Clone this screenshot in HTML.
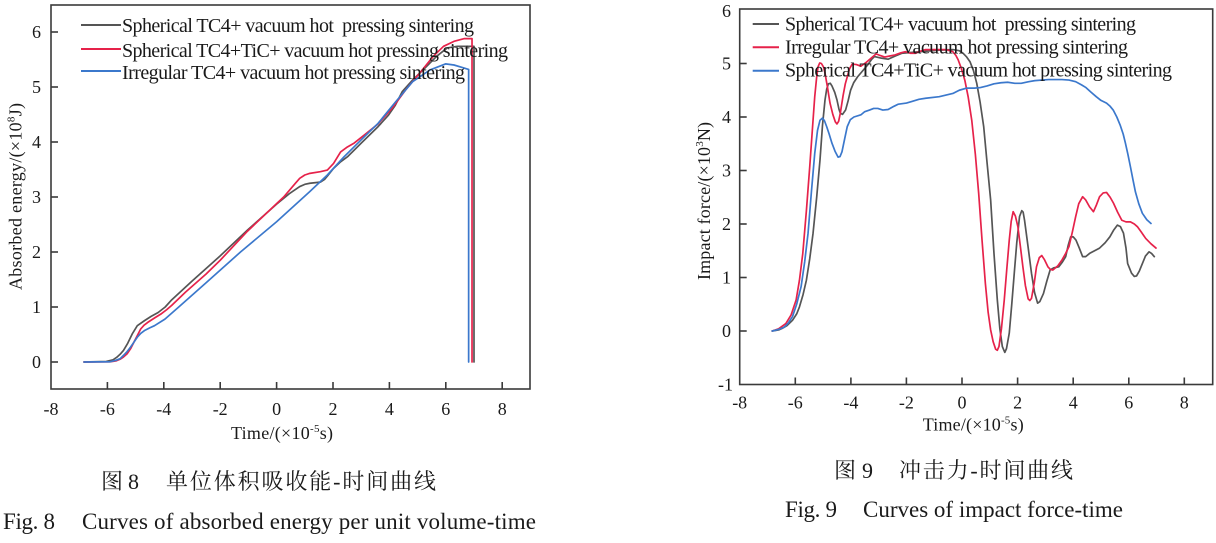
<!DOCTYPE html>
<html>
<head>
<meta charset="utf-8">
<style>
  html, body { margin: 0; padding: 0; background: #fff; }
  svg { display: block; }
  text { font-family: "Liberation Serif", "Noto Serif CJK SC", serif; fill: #1a1a1a; }
  .tk { font-size: 18px; }
  .lg { font-size: 20px; white-space: pre; }
  .ax { fill: none; stroke: #3a3a3a; stroke-width: 1.6; }
  .s { fill: none; stroke-width: 1.7; stroke-linejoin: round; stroke-linecap: round; }
  .cj { font-family: "Liberation Serif", "Noto Serif CJK SC", serif; font-size: 22px; }
  .cap { font-size: 23px; }
</style>
</head>
<body>
<svg width="1216" height="543" viewBox="0 0 1216 543" xmlns="http://www.w3.org/2000/svg">
  <rect width="1216" height="543" fill="#fff"/>

  <!-- ================= LEFT CHART ================= -->
  <rect class="ax" x="51" y="5" width="479" height="384"/>
  <g stroke="#3a3a3a" stroke-width="1.6">
    <line x1="51" y1="32" x2="58" y2="32"/>
    <line x1="51" y1="87" x2="58" y2="87"/>
    <line x1="51" y1="142" x2="58" y2="142"/>
    <line x1="51" y1="197" x2="58" y2="197"/>
    <line x1="51" y1="252" x2="58" y2="252"/>
    <line x1="51" y1="307" x2="58" y2="307"/>
    <line x1="51" y1="362" x2="58" y2="362"/>
    <line x1="107.4" y1="389" x2="107.4" y2="382"/>
    <line x1="163.8" y1="389" x2="163.8" y2="382"/>
    <line x1="220.2" y1="389" x2="220.2" y2="382"/>
    <line x1="276.6" y1="389" x2="276.6" y2="382"/>
    <line x1="333" y1="389" x2="333" y2="382"/>
    <line x1="389.4" y1="389" x2="389.4" y2="382"/>
    <line x1="445.8" y1="389" x2="445.8" y2="382"/>
    <line x1="502.2" y1="389" x2="502.2" y2="382"/>
  </g>
  <g class="tk" text-anchor="end">
    <text x="41" y="38">6</text>
    <text x="41" y="93">5</text>
    <text x="41" y="148">4</text>
    <text x="41" y="203">3</text>
    <text x="41" y="258">2</text>
    <text x="41" y="313">1</text>
    <text x="41" y="368">0</text>
  </g>
  <g class="tk" text-anchor="middle">
    <text x="51" y="415">-8</text>
    <text x="107.4" y="415">-6</text>
    <text x="163.8" y="415">-4</text>
    <text x="220.2" y="415">-2</text>
    <text x="276.6" y="415">0</text>
    <text x="333" y="415">2</text>
    <text x="389.4" y="415">4</text>
    <text x="445.8" y="415">6</text>
    <text x="502.2" y="415">8</text>
  </g>
  <text x="231" y="439" font-size="18" textLength="102">Time/(×10<tspan font-size="11" dy="-7">-5</tspan><tspan dy="7">s)</tspan></text>
  <text transform="translate(21.5,196.5) rotate(-90)" text-anchor="middle" font-size="18" textLength="187">Absorbed energy/(×10<tspan font-size="11" dy="-7">8</tspan><tspan dy="7">J)</tspan></text>

  <g transform="matrix(28.2 0 0 -55 276.6 362)">
    <polyline class="s" vector-effect="non-scaling-stroke" stroke="#555555" points="-6.83,0 -6.04,0.01 -5.8,0.04 -5.67,0.085 -5.55,0.14 -5.43,0.21 -5.28,0.34 -5.12,0.51 -4.94,0.66 -4.69,0.75 -4.45,0.83 -4.2,0.9 -3.95,1.0 -3.72,1.13 -3.0,1.47 -2.0,1.93 -1.03,2.4 0,2.87 0.45,3.06 0.82,3.19 1.0,3.23 1.18,3.25 1.55,3.27 1.7,3.32 1.8,3.38 2.02,3.52 2.27,3.64 2.51,3.73 3.0,3.98 3.6,4.28 3.97,4.49 4.2,4.66 4.46,4.92 4.83,5.13 5.31,5.37 5.68,5.56 6.05,5.71 6.41,5.74 7.0,5.74 7.0,0"/>
    <polyline class="s" vector-effect="non-scaling-stroke" stroke="#e6224a" points="-6.83,0 -5.9,0.005 -5.7,0.02 -5.55,0.05 -5.43,0.09 -5.3,0.15 -5.18,0.24 -5.06,0.36 -4.94,0.48 -4.82,0.6 -4.7,0.67 -4.57,0.72 -4.33,0.8 -4.08,0.88 -3.9,0.95 -3.72,1.03 -3.23,1.27 -2.5,1.6 -2.0,1.85 -1.03,2.38 0,2.88 0.25,3.0 0.45,3.12 0.65,3.24 0.82,3.34 1.0,3.4 1.18,3.43 1.55,3.46 1.8,3.49 2.02,3.61 2.15,3.72 2.27,3.82 2.51,3.91 2.75,3.98 3.12,4.13 3.6,4.33 4.09,4.61 4.58,4.95 5.07,5.25 5.56,5.56 5.92,5.74 6.29,5.83 6.66,5.88 6.93,5.88 6.93,0"/>
    <polyline class="s" vector-effect="non-scaling-stroke" stroke="#3b78cc" points="-6.83,0 -5.9,0.005 -5.7,0.03 -5.55,0.06 -5.43,0.12 -5.3,0.19 -5.18,0.27 -5.06,0.36 -4.94,0.45 -4.82,0.52 -4.69,0.57 -4.5,0.62 -4.33,0.66 -3.96,0.78 -3.47,1.0 -2.5,1.44 -1.28,2.0 0,2.55 1.18,3.1 1.8,3.4 2.39,3.73 3.0,4.04 3.6,4.34 4.22,4.73 4.83,5.1 5.44,5.31 5.99,5.42 6.29,5.4 6.55,5.36 6.81,5.32 6.81,0"/>
  </g>

  <line x1="81" y1="25" x2="121" y2="25" stroke="#555555" stroke-width="2"/>
  <line x1="81" y1="49" x2="121" y2="49" stroke="#e6224a" stroke-width="2"/>
  <line x1="81" y1="71" x2="121" y2="71" stroke="#3b78cc" stroke-width="2"/>
  <text class="lg" x="122" y="32" textLength="352">Spherical TC4+ vacuum hot  pressing sintering</text>
  <text class="lg" x="122" y="57" textLength="386">Spherical TC4+TiC+ vacuum hot pressing sintering</text>
  <text class="lg" x="122" y="79" textLength="343">Irregular TC4+ vacuum hot pressing sintering</text>

  <text class="cj" x="101" y="489">图</text>
  <text class="cj" x="128" y="489">8</text>
  <text class="cj" x="166" y="489" textLength="270">单位体积吸收能-时间曲线</text>
  <text class="cap" x="3" y="529" textLength="52">Fig. 8</text>
  <text class="cap" x="82" y="529" textLength="454">Curves of absorbed energy per unit volume-time</text>

  <!-- ================= RIGHT CHART ================= -->
  <rect class="ax" x="739.7" y="9" width="473" height="375.5"/>
  <g stroke="#3a3a3a" stroke-width="1.6">
    <line x1="739.7" y1="63.5" x2="746.7" y2="63.5"/>
    <line x1="739.7" y1="117" x2="746.7" y2="117"/>
    <line x1="739.7" y1="170.5" x2="746.7" y2="170.5"/>
    <line x1="739.7" y1="224" x2="746.7" y2="224"/>
    <line x1="739.7" y1="277.5" x2="746.7" y2="277.5"/>
    <line x1="739.7" y1="331" x2="746.7" y2="331"/>
    <line x1="795.3" y1="384.5" x2="795.3" y2="377.5"/>
    <line x1="850.9" y1="384.5" x2="850.9" y2="377.5"/>
    <line x1="906.4" y1="384.5" x2="906.4" y2="377.5"/>
    <line x1="962" y1="384.5" x2="962" y2="377.5"/>
    <line x1="1017.6" y1="384.5" x2="1017.6" y2="377.5"/>
    <line x1="1073.2" y1="384.5" x2="1073.2" y2="377.5"/>
    <line x1="1128.8" y1="384.5" x2="1128.8" y2="377.5"/>
    <line x1="1184.3" y1="384.5" x2="1184.3" y2="377.5"/>
  </g>
  <g class="tk" text-anchor="end">
    <text x="731" y="17">6</text>
    <text x="731" y="69.5">5</text>
    <text x="731" y="123">4</text>
    <text x="731" y="176.5">3</text>
    <text x="731" y="230">2</text>
    <text x="731" y="283.5">1</text>
    <text x="731" y="337">0</text>
    <text x="733" y="390.5">-1</text>
  </g>
  <g class="tk" text-anchor="middle">
    <text x="739.7" y="408.5">-8</text>
    <text x="795.3" y="408.5">-6</text>
    <text x="850.9" y="408.5">-4</text>
    <text x="906.4" y="408.5">-2</text>
    <text x="962" y="408.5">0</text>
    <text x="1017.6" y="408.5">2</text>
    <text x="1073.2" y="408.5">4</text>
    <text x="1128.8" y="408.5">6</text>
    <text x="1184.3" y="408.5">8</text>
  </g>
  <text x="922.7" y="430.5" font-size="18" textLength="101">Time/(×10<tspan font-size="11" dy="-7">-5</tspan><tspan dy="7">s)</tspan></text>
  <text transform="translate(710,201) rotate(-90)" text-anchor="middle" font-size="18" textLength="158">Impact force/(×10<tspan font-size="11" dy="-7">3</tspan><tspan dy="7">N)</tspan></text>

  <g transform="matrix(27.79 0 0 -53.5 962.02 331)">
    <polyline class="s" vector-effect="non-scaling-stroke" stroke="#555555" points="-6.83,0 -6.6,0.02 -6.47,0.05 -6.3,0.1 -6.1,0.2 -5.95,0.32 -5.85,0.45 -5.72,0.68 -5.6,0.95 -5.48,1.35 -5.36,1.83 -5.23,2.5 -5.11,3.2 -5.02,3.85 -4.93,4.32 -4.87,4.52 -4.81,4.62 -4.74,4.63 -4.68,4.58 -4.58,4.46 -4.5,4.32 -4.43,4.15 -4.38,4.07 -4.3,4.05 -4.19,4.13 -4.1,4.3 -4.01,4.5 -3.9,4.64 -3.76,4.75 -3.58,4.86 -3.4,4.97 -3.25,5.08 -3.15,5.13 -2.9,5.1 -2.66,5.08 -2.4,5.14 -2.17,5.19 -1.55,5.22 -0.82,5.25 -0.33,5.26 -0.1,5.24 0.04,5.19 0.17,5.12 0.29,5.03 0.41,4.87 0.53,4.63 0.65,4.28 0.78,3.82 0.9,3.15 1.03,2.45 1.15,1.45 1.27,0.58 1.36,0.05 1.45,-0.29 1.54,-0.4 1.6,-0.33 1.7,-0.04 1.79,0.5 1.88,1.08 1.97,1.65 2.07,2.14 2.15,2.25 2.2,2.22 2.25,2.07 2.37,1.6 2.5,1.08 2.61,0.72 2.72,0.52 2.8,0.55 2.93,0.7 3.05,0.93 3.17,1.14 3.3,1.18 3.48,1.2 3.6,1.28 3.73,1.39 3.82,1.6 3.91,1.76 4.0,1.76 4.1,1.7 4.22,1.55 4.34,1.39 4.45,1.39 4.59,1.45 4.95,1.55 5.15,1.65 5.32,1.76 5.45,1.88 5.59,1.98 5.7,1.95 5.81,1.83 5.9,1.55 5.96,1.26 6.1,1.08 6.2,1.02 6.28,1.03 6.38,1.12 6.49,1.26 6.6,1.4 6.73,1.48 6.82,1.45 6.92,1.39"/>
    <polyline class="s" vector-effect="non-scaling-stroke" stroke="#e6224a" points="-6.83,0 -6.6,0.04 -6.34,0.14 -6.15,0.3 -5.97,0.58 -5.85,0.95 -5.73,1.45 -5.6,2.25 -5.48,3.07 -5.38,3.8 -5.3,4.38 -5.23,4.75 -5.18,4.94 -5.12,5.01 -5.06,5.0 -4.98,4.93 -4.93,4.82 -4.84,4.55 -4.75,4.26 -4.65,4.05 -4.56,3.91 -4.5,3.87 -4.44,3.92 -4.38,4.07 -4.28,4.4 -4.2,4.62 -4.13,4.75 -4.05,4.9 -3.95,4.99 -3.8,4.98 -3.64,4.95 -3.45,5.02 -3.27,5.1 -3.09,5.18 -2.95,5.15 -2.78,5.12 -2.6,5.14 -2.41,5.16 -2.2,5.2 -2.04,5.22 -1.85,5.19 -1.68,5.19 -1.5,5.23 -1.31,5.26 -0.57,5.26 -0.33,5.22 -0.22,5.15 -0.14,5.07 -0.02,4.9 0.1,4.69 0.22,4.38 0.35,3.94 0.48,3.3 0.6,2.57 0.72,1.7 0.84,0.89 0.94,0.35 1.03,0.02 1.12,-0.2 1.21,-0.34 1.27,-0.36 1.33,-0.29 1.42,0.05 1.52,0.58 1.61,1.15 1.7,1.7 1.77,2.05 1.84,2.23 1.92,2.15 2.01,1.95 2.1,1.58 2.19,1.2 2.28,0.85 2.38,0.6 2.44,0.57 2.5,0.61 2.6,0.9 2.68,1.2 2.78,1.37 2.87,1.41 2.97,1.33 3.09,1.2 3.18,1.15 3.27,1.14 3.45,1.22 3.6,1.33 3.73,1.45 3.85,1.58 3.97,1.85 4.09,2.14 4.2,2.38 4.34,2.51 4.45,2.45 4.59,2.32 4.73,2.23 4.84,2.36 4.95,2.51 5.08,2.58 5.2,2.59 5.33,2.5 5.45,2.39 5.6,2.22 5.75,2.07 5.9,2.04 6.06,2.04 6.2,2.0 6.31,1.95 6.45,1.85 6.61,1.73 6.8,1.63 6.98,1.55"/>
    <polyline class="s" vector-effect="non-scaling-stroke" stroke="#3b78cc" points="-6.83,0 -6.6,0.03 -6.4,0.07 -6.25,0.15 -6.1,0.27 -5.95,0.5 -5.79,0.83 -5.66,1.3 -5.54,1.83 -5.42,2.6 -5.3,3.32 -5.2,3.75 -5.11,3.94 -5.02,3.98 -4.95,3.93 -4.87,3.82 -4.78,3.68 -4.68,3.51 -4.57,3.36 -4.46,3.25 -4.39,3.26 -4.32,3.35 -4.22,3.6 -4.13,3.82 -4.02,3.95 -3.89,4.0 -3.64,4.04 -3.5,4.1 -3.33,4.13 -3.18,4.16 -3.03,4.16 -2.85,4.13 -2.66,4.14 -2.45,4.2 -2.29,4.24 -2.0,4.26 -1.8,4.29 -1.55,4.33 -1.31,4.35 -0.82,4.38 -0.33,4.44 -0.1,4.5 0.17,4.54 0.45,4.54 0.66,4.55 0.9,4.58 1.15,4.62 1.4,4.64 1.64,4.65 1.9,4.63 2.13,4.63 2.4,4.66 2.62,4.68 3.11,4.7 3.6,4.7 3.85,4.69 4.09,4.66 4.3,4.6 4.46,4.55 4.65,4.46 4.83,4.38 5.0,4.31 5.2,4.26 5.33,4.2 5.44,4.13 5.57,4.0 5.69,3.85 5.8,3.68 5.88,3.51 5.97,3.3 6.06,3.07 6.15,2.83 6.24,2.6 6.36,2.38 6.49,2.2 6.65,2.08 6.8,2.01"/>
  </g>

  <line x1="752.7" y1="24" x2="779" y2="24" stroke="#555555" stroke-width="2"/>
  <line x1="752.7" y1="47.3" x2="779" y2="47.3" stroke="#e6224a" stroke-width="2"/>
  <line x1="752.7" y1="70.7" x2="779" y2="70.7" stroke="#3b78cc" stroke-width="2"/>
  <text class="lg" x="785" y="30.5" textLength="351">Spherical TC4+ vacuum hot  pressing sintering</text>
  <text class="lg" x="785" y="53.5" textLength="343">Irregular TC4+ vacuum hot pressing sintering</text>
  <text class="lg" x="785" y="76.5" textLength="387">Spherical TC4+TiC+ vacuum hot pressing sintering</text>

  <text class="cj" x="834" y="478">图</text>
  <text class="cj" x="862" y="478">9</text>
  <text class="cj" x="899" y="478" textLength="174">冲击力-时间曲线</text>
  <text class="cap" x="785" y="517" textLength="52">Fig. 9</text>
  <text class="cap" x="863" y="517" textLength="260">Curves of impact force-time</text>
</svg>
</body>
</html>
